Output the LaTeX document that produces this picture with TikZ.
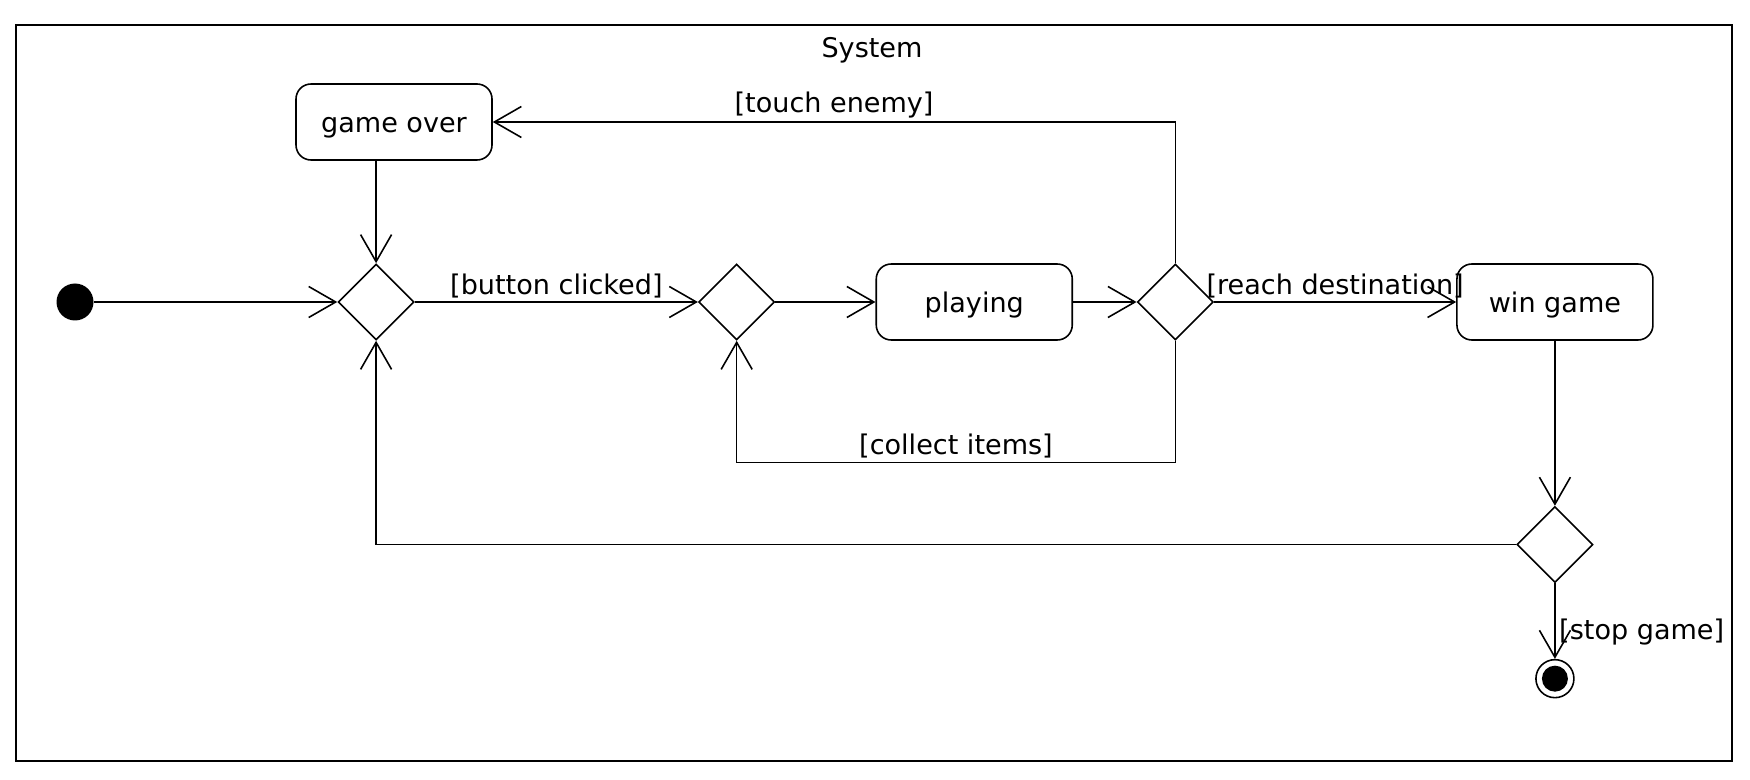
\documentclass[tikz,border=0pt]{standalone}
\usepackage{fontspec}
\setmainfont{DejaVu Sans}
\usetikzlibrary{arrows.meta, positioning, shapes.geometric}

\begin{document}
\begin{tikzpicture}[
    every node/.style={font=\fontsize{7.7}{9}\selectfont},
    line width=0.45pt,
    activity/.style={draw, rounded corners=1.5mm, minimum width=1.96cm, minimum height=0.76cm,
        text height=6.5pt, text depth=0.8pt, align=center},
    decision/.style={draw, diamond, inner sep=0pt, minimum width=0.76cm, minimum height=0.76cm},
    initnode/.style={circle, fill=black, inner sep=0pt, minimum size=0.37cm},
    finalnode/.style={circle, draw, inner sep=0pt, minimum size=0.38cm,
        path picture={\fill (path picture bounding box.center) circle (0.13cm);}},
    guard/.style={inner sep=1pt},
    arrow/.style={-{Straight Barb[length=2.7mm, width=3.1mm]}}
]
\useasboundingbox (0,0) rectangle (17.5,-7.8);

% System frame
\draw (0.16,-0.25) rectangle (17.32,-7.61);
\node (title) at (8.72,-0.5) {System};

% Start
\node[initnode] (init) at (0.75,-3.02) {};

% Merge before the menu
\node[decision, right=2.43cm of init] (dec1) {};

% Game over
\node[activity] (gameover) at (3.94,-1.22) {game over};

% Merge before playing
\node[decision, right=2.83cm of dec1] (dec2) {};

% Playing
\node[activity, right=1.0cm of dec2] (playing) {playing};

% Outcome of playing
\node[decision, right=0.635cm of playing] (dec3) {};

% Win game
\node[activity, right=2.42cm of dec3] (wingame) {win game};

% Continue or stop
\node[decision, below=1.65cm of wingame] (dec4) {};

% End
\node[finalnode, below=0.755cm of dec4] (final) {};

\draw[arrow] (init) -- (dec1);
\draw[arrow] (dec1) -- node[guard, above] {[button clicked]} (dec2);
\draw[arrow] (dec2) -- (playing);
\draw[arrow] (playing) -- (dec3);
\draw[arrow] (dec3) -- node[guard, above] {[reach destination]} (wingame);
\draw[arrow] (dec3.north) |- node[guard, above, pos=0.75] {[touch enemy]} (gameover.east);
\draw[arrow] (gameover.south -| dec1) -- (dec1.north);
\draw[arrow] (dec3.south) -- ++(0,-1.215) -| node[guard, above, pos=0.25] {[collect items]} (dec2.south);
\draw[arrow] (wingame) -- (dec4);
\draw[arrow] (dec4.west) -| (dec1.south);
\draw[arrow] (dec4) -- node[guard, right, pos=0.64] {[stop game]} (final);

\end{tikzpicture}
\end{document}
